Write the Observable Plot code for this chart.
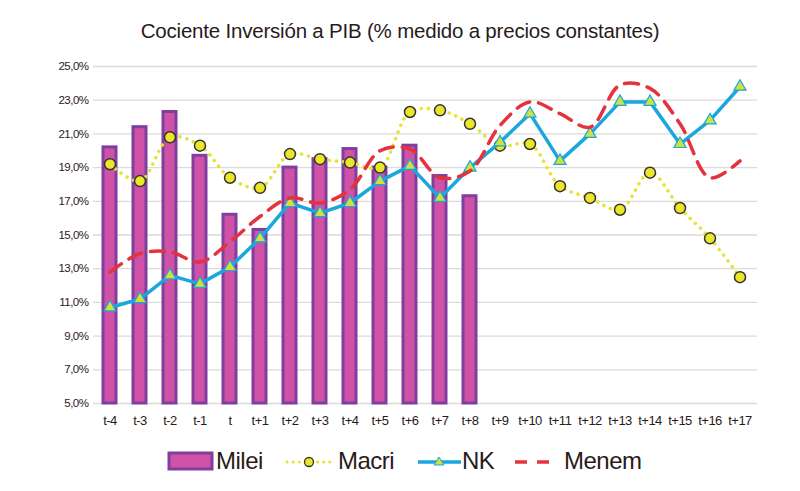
<!DOCTYPE html>
<html>
<head>
<meta charset="utf-8">
<script src="https://cdn.jsdelivr.net/npm/d3@7"></script>
<script src="https://cdn.jsdelivr.net/npm/@observablehq/plot@0.6"></script>
<style>
  html, body { margin: 0; padding: 0; background: #fff; }
  body { width: 800px; height: 491px; overflow: hidden; font-family: "Liberation Sans", Arial, sans-serif; color: #2a1a1a; }
  #title { height: 50px; box-sizing: border-box; padding-top: 20px; text-align: center; font-size: 20.5px; line-height: 22px; letter-spacing: -0.2px; }
  #chart svg { display: block; }
  #chart svg g[aria-label="x-axis tick label"] text { font-size: 13px; letter-spacing: -0.5px; }
  #chart svg g[aria-label="y-axis tick label"] text { font-size: 11.5px; letter-spacing: -0.5px; }
  #legend { position: relative; height: 56px; font-size: 24px; }
  #legend .lbl { position: absolute; top: 12px; line-height: 28px; letter-spacing: -0.5px; }
  #legend svg { position: absolute; top: 14px; }
</style>
</head>
<body>
<div id="title">Cociente Inversión a PIB (% medido a precios constantes)</div>
<div id="chart"></div>
<div id="legend"></div>
<script>
const categories = ["t-4","t-3","t-2","t-1","t","t+1","t+2","t+3","t+4","t+5","t+6","t+7","t+8","t+9","t+10","t+11","t+12","t+13","t+14","t+15","t+16","t+17"];
const milei = [20.2,21.4,22.3,19.7,16.2,15.3,19.0,19.5,20.1,19.0,20.3,18.5,17.3];
const macri = [19.2,18.2,20.8,20.3,18.4,17.8,19.8,19.5,19.3,19.0,22.3,22.4,21.6,20.3,20.4,17.9,17.2,16.5,18.7,16.6,14.8,12.5];
const nk    = [10.7,11.2,12.6,12.1,13.1,14.8,16.9,16.3,16.9,18.2,19.1,17.2,19.0,20.5,22.2,19.4,21.0,22.9,22.9,20.4,21.8,23.8];
const menem = [12.8,13.9,14.0,13.4,14.6,16.1,17.2,16.9,17.7,20.0,20.1,18.4,18.8,21.5,22.9,22.2,21.4,23.9,23.7,21.6,18.4,19.4];
const yTicks = [5,7,9,11,13,15,17,19,21,23,25];

const C = {
  barFill: "#d052a6", barStroke: "#7f3f9e",
  macri: "#e6e236", macriDot: "#ebe62a",
  nk: "#1ba7dd", nkTri: "#cde23c",
  menem: "#e5323d", grid: "#dadada", text: "#2a1a1a"
};

const mileiData = milei.map((v, i) => ({x: categories[i], y: v}));
const macriData = macri.map((v, i) => ({x: categories[i], y: v}));
const nkData = nk.map((v, i) => ({x: categories[i], y: v}));
const menemData = menem.map((v, i) => ({x: categories[i], y: v}));

const fmt = d => d.toFixed(1).replace(".", ",") + "%";

const plot = Plot.plot({
  width: 800,
  height: 385,
  marginLeft: 93,
  marginRight: 43,
  marginTop: 16,
  marginBottom: 32,
  style: {fontFamily: "'Liberation Sans', Arial, sans-serif", fontSize: "11px", color: C.text, background: "#fff"},
  x: {domain: categories, paddingInner: 0.55, paddingOuter: 0.275, label: null, tickSize: 0, tickPadding: 12},
  y: {domain: [5, 25], ticks: yTicks, tickFormat: fmt, label: null, tickSize: 0, tickPadding: 5},
  marks: [
    Plot.gridY(yTicks, {stroke: C.grid, strokeOpacity: 1, strokeWidth: 1.3}),
    Plot.barY(mileiData, {x: "x", y1: 5, y2: "y", fill: C.barFill, stroke: C.barStroke, strokeWidth: 3}),
    Plot.line(macriData, {x: "x", y: "y", stroke: C.macri, strokeWidth: 3.5, strokeDasharray: "0.1,7", strokeLinecap: "round", curve: "catmull-rom"}),
    Plot.dot(macriData, {x: "x", y: "y", r: 5.5, fill: C.macriDot, stroke: "#333", strokeWidth: 1.5}),
    Plot.line(nkData, {x: "x", y: "y", stroke: C.nk, strokeWidth: 3.5}),
    Plot.dot(nkData, {x: "x", y: "y", symbol: "triangle", r: 4.5, fill: C.nkTri, stroke: C.nk, strokeWidth: 1.2}),
    Plot.line(menemData, {x: "x", y: "y", stroke: C.menem, strokeWidth: 3.5, strokeDasharray: "14,9", curve: "catmull-rom"})
  ]
});
document.getElementById("chart").appendChild(plot);

// Legend
const legend = document.getElementById("legend");
function sw(left, w, inner) {
  const s = document.createElementNS("http://www.w3.org/2000/svg", "svg");
  s.setAttribute("width", w); s.setAttribute("height", 26);
  s.style.left = left + "px";
  s.innerHTML = inner;
  legend.appendChild(s);
}
function lbl(left, text) {
  const d = document.createElement("div");
  d.className = "lbl"; d.style.left = left + "px"; d.textContent = text;
  legend.appendChild(d);
}
sw(167, 48, `<rect x="2" y="4" width="43" height="16" fill="${C.barFill}" stroke="${C.barStroke}" stroke-width="3"/>`);
lbl(216, "Milei");
sw(285, 48, `<line x1="2" y1="13" x2="45" y2="13" stroke="${C.macri}" stroke-width="3" stroke-dasharray="0.1,6" stroke-linecap="round"/><circle cx="24" cy="13" r="4.5" fill="${C.macriDot}" stroke="#333" stroke-width="1.3"/>`);
lbl(338, "Macri");
sw(416, 48, `<line x1="2" y1="13" x2="45" y2="13" stroke="${C.nk}" stroke-width="3.5"/><path d="M23,8 L28,16 L18,16 Z" fill="${C.nkTri}" stroke="${C.nk}" stroke-width="1"/>`);
lbl(462, "NK");
sw(513, 40, `<line x1="2" y1="13" x2="38" y2="13" stroke="${C.menem}" stroke-width="3.5" stroke-dasharray="12,10"/>`);
lbl(564, "Menem");
</script>
</body>
</html>
